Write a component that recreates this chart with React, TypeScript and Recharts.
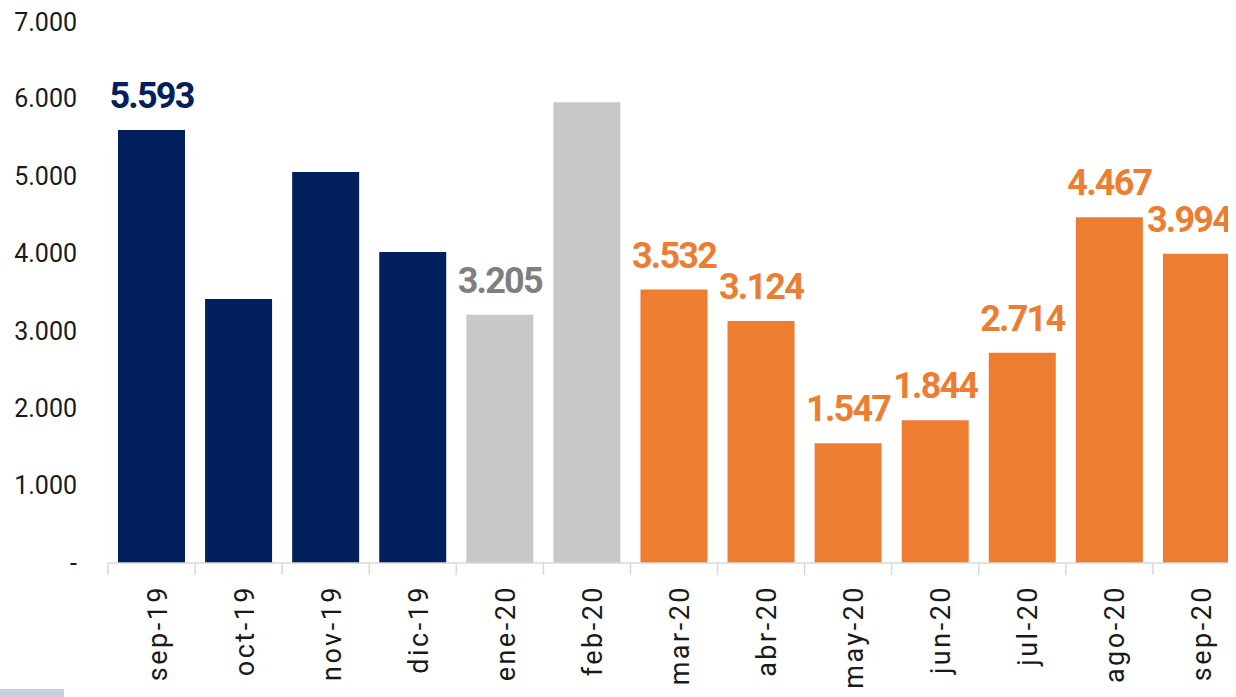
import { Bar, BarChart, Cell, LabelList, XAxis, YAxis } from "recharts";

const months = ["sep-19", "oct-19", "nov-19", "dic-19", "ene-20", "feb-20", "mar-20", "abr-20", "may-20", "jun-20", "jul-20", "ago-20", "sep-20"];
const values = [5593, 3410, 5050, 4015, 3205, 5950, 3532, 3124, 1547, 1844, 2714, 4467, 3994];
const periods = ["pre", "pre", "pre", "pre", "covid", "covid", "post", "post", "post", "post", "post", "post", "post"];
const labelled = [true, false, false, false, true, false, true, true, true, true, true, true, true];
const yTicks = [0, 1000, 2000, 3000, 4000, 5000, 6000, 7000];

const barColors: Record<string, string> = { pre: "#03205e", covid: "#c8c8c8", post: "#ed7d31" };
const labelColors: Record<string, string> = { pre: "#03205e", covid: "#7f7f7f", post: "#ed7d31" };

const VIEW_W = 1228;
const CHART_W = 1232;
const Y_W = 100;
const BAND = (CHART_W - Y_W) / months.length;
const FONT = "Roboto, 'DejaVu Sans', sans-serif";
const LABEL_HALF = 43;

const data = months.map((m, i) => ({ month: m, value: values[i], period: periods[i], show: labelled[i] }));

const fmt = (v: number) => (v === 0 ? "-" : String(v).replace(/\B(?=(\d{3})+(?!\d))/g, "."));

function MonthTick({ x, y, payload }: any) {
  const bx = x - BAND / 2;
  return (
    <g>
      <line x1={bx} y1={y} x2={bx} y2={y + 12} stroke="#d9d9d9" strokeWidth={1.5} />
      <text
        x={x + 15}
        y={y + 22}
        transform={`rotate(-90, ${x + 15}, ${y + 22})`}
        textAnchor="end"
        fill="#1a1a1a"
        fontSize={27}
        letterSpacing={2.5}
        fontFamily={FONT}
      >
        {payload.value}
      </text>
    </g>
  );
}

function ValueLabel(props: any) {
  const { x, y, width, index } = props;
  const row = data[index];
  if (!row || !row.show) return null;
  // keep the label inside the visible area, like the original does for the last bar
  const cx = Math.min(x + width / 2, VIEW_W - 4 - LABEL_HALF);
  return (
    <text
      x={cx}
      y={y - 22}
      textAnchor="middle"
      fill={labelColors[row.period]}
      fontSize={36}
      fontWeight={700}
      letterSpacing={-1.8}
      fontFamily={FONT}
    >
      {fmt(row.value)}
    </text>
  );
}

export default function App() {
  return (
    <div style={{ width: VIEW_W, height: 689, overflow: "hidden", position: "relative" }}>
      <BarChart width={CHART_W} height={689} data={data} margin={{ top: 13, right: 0, left: 0, bottom: 0 }}>
        <XAxis
          dataKey="month"
          height={134}
          interval={0}
          tickLine={false}
          tickSize={0}
          tickMargin={0}
          axisLine={{ stroke: "#d9d9d9", strokeWidth: 1.5 }}
          tick={<MonthTick />}
        />
        <YAxis
          width={Y_W}
          domain={[0, 7000]}
          ticks={yTicks}
          axisLine={false}
          tickLine={false}
          tickSize={0}
          tickMargin={31}
          tickFormatter={fmt}
          tick={{ fill: "#1a1a1a", fontSize: 25, fontFamily: FONT }}
        />
        <Bar dataKey="value" barSize={67} isAnimationActive={false}>
          {data.map((d) => (
            <Cell key={d.month} fill={barColors[d.period]} />
          ))}
          <LabelList dataKey="value" content={<ValueLabel />} />
        </Bar>
      </BarChart>
      <div style={{ position: "fixed", left: 0, top: 689, width: 64, height: 8, background: "#c9cde0" }} />
    </div>
  );
}
